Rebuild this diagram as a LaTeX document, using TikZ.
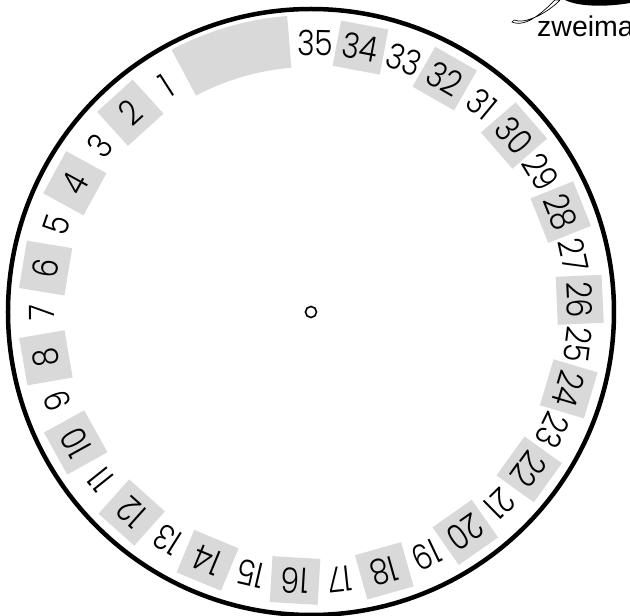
\documentclass[tikz,border=0pt]{standalone}
\usepackage{xcolor}
\definecolor{PanelGray}{HTML}{D9D9D9}
\usepackage{fontspec}
\newfontfamily\numfont[FakeStretch=0.85]{Poppins Light}
\newfontfamily\logofont{Liberation Sans}
\usepackage{tikz}
\usetikzlibrary{positioning}

\tikzset{
  numtext/.style={font=\numfont\fontsize{35}{35}\selectfont, inner sep=0pt},
  numbox/.style={numtext, fill=PanelGray, minimum width=48, minimum height=46},
}

\begin{document}
\begin{tikzpicture}[x=1pt,y=1pt]
  \useasboundingbox (-311,-304) rectangle (319,312);
  % blank block between 35 and 1
  \fill[PanelGray] (94.6:297) arc[start angle=94.6, end angle=118, radius=297]
    -- (118:245) arc[start angle=118, end angle=94.6, radius=245] -- cycle;
  % numbers
  \foreach \n in {1,...,35}{
    \pgfmathsetmacro\ang{122.6+9.6*(\n-1)}
    \ifodd\n
      \node[numtext, rotate=\ang-90] (num\n) at (\ang:269) {\n};
    \else
      \node[numbox, rotate=\ang-90] (num\n) at (\ang:269) {\n};
    \fi
  }
  \draw[line width=4.5] (0,0) circle[radius=303];
  \node[draw, circle, line width=1.6, minimum size=11, inner sep=0pt] (hub) at (0,0) {};
  % logo, cut off at the edge
  \draw[line width=0.7] (201,290) .. controls (215,284) and (232,300) .. (244,312)
    -- (249,312) .. controls (238,300) and (214,287) .. (203,292) -- cycle;
  \fill[black] (254,312) .. controls (268,305) and (296,305) .. (319,309) -- (319,312) -- cycle;
  \node[font=\logofont\fontsize{28.5}{28.5}\selectfont, anchor=base west, inner sep=0pt]
    (logo) at (226,275) {zweima};
\end{tikzpicture}
\end{document}
